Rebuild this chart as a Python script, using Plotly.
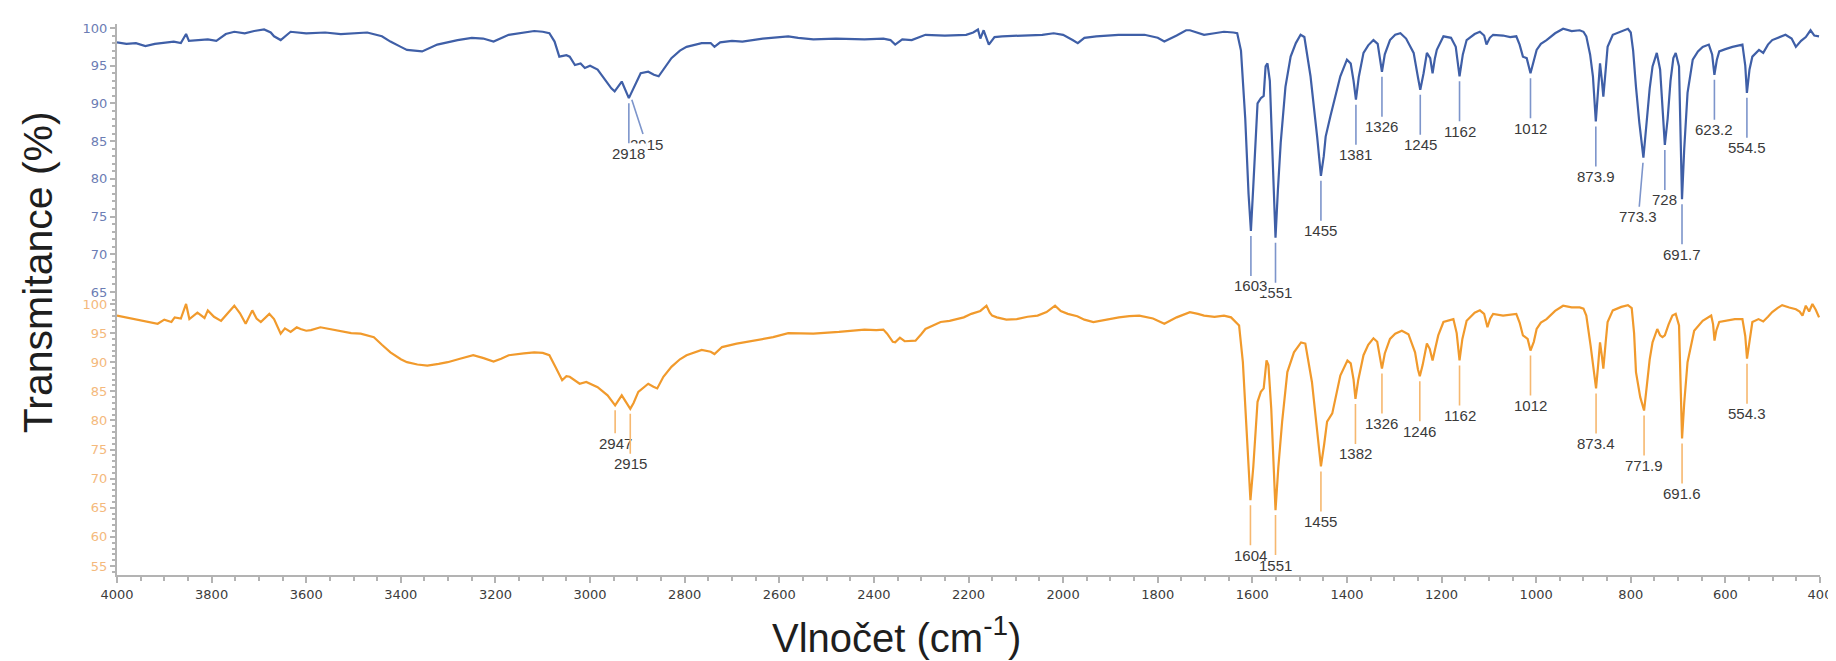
import numpy as np
import plotly.graph_objects as go

# upper spectrum (blue)
wn_blue = [4000, 3980, 3960, 3940, 3920, 3900, 3880, 3865, 3854, 3848, 3830, 3808, 3790, 3770, 3752, 3730,
           3710, 3689, 3675, 3668, 3654, 3640, 3633, 3600, 3560, 3527, 3500, 3471, 3440, 3422, 3400, 3387,
           3355, 3323, 3280, 3250, 3226, 3204, 3172, 3140, 3118, 3100, 3086, 3075, 3065, 3050, 3043, 3032,
           3020, 3011, 3000, 2984, 2968, 2955, 2948, 2933, 2918, 2905, 2893, 2877, 2865, 2855, 2840, 2828,
           2810, 2796, 2764, 2745, 2737, 2725, 2700, 2678, 2635, 2600, 2581, 2560, 2528, 2480, 2420, 2380,
           2365, 2355, 2340, 2320, 2291, 2250, 2205, 2190, 2180, 2175, 2168, 2157, 2145, 2129, 2090, 2044,
           2020, 2000, 1980, 1969, 1955, 1930, 1883, 1828, 1800, 1786, 1760, 1740, 1732, 1702, 1680, 1660,
           1640, 1632, 1624, 1615, 1608, 1603, 1598, 1592, 1589, 1582, 1576, 1572, 1568, 1563, 1557, 1551,
           1546, 1540, 1530, 1519, 1508, 1498, 1490, 1477, 1463, 1455, 1449, 1445, 1435, 1425, 1414, 1400,
           1392, 1386, 1381, 1375, 1365, 1355, 1344, 1335, 1330, 1326, 1320, 1309, 1298, 1287, 1275, 1259,
           1250, 1245, 1238, 1231, 1224, 1219, 1214, 1210, 1196, 1180, 1170, 1162, 1155, 1147, 1130, 1119,
           1110, 1105, 1098, 1091, 1070, 1055, 1042, 1035, 1028, 1020, 1012, 1005, 999, 990, 978, 960,
           943, 925, 908, 900, 894, 886, 880, 873.9, 869, 865, 861, 858, 853, 849, 838, 820,
           806, 800, 795, 789, 782, 773.3, 766, 760, 754, 745, 738, 733, 728, 722, 716, 710,
           705, 698, 695, 691.7, 687, 680, 669, 658, 648, 635, 628, 623.2, 618, 613, 600, 585,
           564, 558, 554.5, 549, 543, 529, 520, 510, 501, 485, 473, 460, 451, 440, 430, 420,
           412, 402]
t_blue = [98.1, 97.9, 98.0, 97.6, 97.9, 98.0, 98.2, 98.0, 99.2, 98.3, 98.4, 98.5, 98.3, 99.2, 99.5, 99.3,
          99.6, 99.8, 99.4, 98.9, 98.4, 99.2, 99.5, 99.3, 99.4, 99.2, 99.3, 99.4, 98.9, 98.2, 97.5, 97.1,
          96.9, 97.8, 98.4, 98.7, 98.6, 98.2, 99.1, 99.4, 99.6, 99.5, 99.3, 98.2, 96.2, 96.4, 96.2, 95.1,
          95.3, 94.7, 95.0, 94.5, 93.1, 92.0, 91.6, 92.9, 90.7, 92.5, 94.0, 94.2, 93.8, 93.6, 95.0, 96.0,
          97.0, 97.5, 98.0, 98.0, 97.5, 98.1, 98.3, 98.2, 98.6, 98.8, 98.9, 98.7, 98.5, 98.6, 98.5, 98.6,
          98.4, 97.8, 98.5, 98.4, 99.1, 99.0, 99.1, 99.4, 99.8, 98.6, 99.7, 97.8, 98.8, 98.9, 99.0, 99.1,
          99.3, 99.1, 98.4, 98.0, 98.7, 98.9, 99.1, 99.1, 98.7, 98.2, 99.0, 99.7, 99.7, 99.1, 99.3, 99.5,
          99.4, 99.3, 97.0, 88.0, 78.0, 73.1, 79.0, 87.5, 90.0, 90.7, 91.0, 94.9, 95.3, 93.0, 82.0, 72.2,
          78.5, 84.8, 92.2, 96.2, 98.0, 99.1, 98.8, 93.6, 85.6, 80.4, 83.0, 85.6, 88.3, 91.0, 93.6, 95.8,
          95.3, 93.0, 90.5, 93.5, 96.7, 97.7, 98.4, 97.9, 96.0, 94.2, 96.5, 98.4, 99.1, 99.3, 98.6, 96.7,
          93.5, 91.8, 94.0, 96.7, 96.0, 94.0, 96.0, 97.1, 98.9, 98.7, 97.5, 93.6, 96.5, 98.4, 99.2, 99.5,
          99.0, 97.8, 98.7, 99.1, 99.0, 98.8, 98.9, 97.8, 96.2, 96.0, 94.0, 95.8, 97.1, 97.9, 98.4, 99.3,
          99.9, 99.6, 99.7, 99.5, 98.9, 96.5, 93.6, 87.6, 91.5, 95.3, 93.0, 90.9, 94.5, 97.5, 99.1, 99.5,
          99.9, 99.4, 97.0, 92.2, 87.5, 82.8, 88.0, 92.0, 94.9, 96.7, 94.5, 89.0, 84.5, 88.0, 93.0, 96.0,
          96.7, 94.9, 87.0, 77.3, 84.0, 91.4, 95.8, 96.9, 97.5, 97.8, 96.5, 93.8, 95.8, 96.9, 97.2, 97.5,
          97.8, 95.0, 91.4, 94.5, 96.2, 97.1, 96.7, 97.8, 98.4, 98.8, 99.1, 98.6, 97.5, 98.3, 98.8, 99.7,
          99.0, 98.9]

# lower spectrum (orange)
wn_orange = [4000, 3980, 3965, 3947, 3930, 3914, 3900, 3885, 3878, 3865, 3854, 3847, 3830, 3815, 3808, 3795,
             3780, 3765, 3752, 3740, 3728, 3714, 3705, 3696, 3678, 3668, 3660, 3654, 3645, 3633, 3620, 3612,
             3600, 3590, 3570, 3550, 3527, 3505, 3485, 3470, 3457, 3440, 3422, 3400, 3387, 3365, 3344, 3320,
             3301, 3275, 3247, 3225, 3204, 3188, 3172, 3140, 3118, 3100, 3086, 3072, 3059, 3050, 3043, 3022,
             3008, 2984, 2963, 2947, 2940, 2933, 2915, 2908, 2898, 2877, 2866, 2858, 2845, 2828, 2810, 2796,
             2764, 2745, 2737, 2721, 2690, 2656, 2613, 2581, 2550, 2528, 2474, 2440, 2420, 2395, 2380, 2372,
             2360, 2355, 2345, 2335, 2312, 2300, 2291, 2275, 2259, 2240, 2226, 2210, 2194, 2175, 2162, 2155,
             2150, 2140, 2120, 2098, 2075, 2054, 2035, 2017, 2005, 1990, 1970, 1955, 1936, 1910, 1882, 1860,
             1839, 1810, 1786, 1760, 1732, 1715, 1702, 1680, 1660, 1645, 1635, 1628, 1620, 1612, 1604, 1598,
             1592, 1589, 1582, 1576, 1570, 1566, 1560, 1551, 1545, 1537, 1526, 1512, 1497, 1488, 1474, 1462,
             1455, 1448, 1442, 1431, 1422, 1414, 1399, 1392, 1386, 1382, 1376, 1365, 1355, 1344, 1336, 1330,
             1326, 1320, 1309, 1298, 1284, 1270, 1256, 1250, 1246, 1240, 1231, 1225, 1219, 1213, 1207, 1196,
             1175, 1168, 1162, 1156, 1147, 1130, 1119, 1110, 1103, 1097, 1091, 1070, 1055, 1042, 1035, 1028,
             1018, 1012, 1005, 999, 990, 978, 960, 943, 925, 908, 900, 894, 885, 879, 873.4, 869,
             865, 861, 858, 853, 849, 838, 820, 806, 798, 793, 789, 780, 771.9, 766, 760, 754,
             744, 738, 733, 728, 720, 712, 705, 698, 695, 691.6, 687, 680, 666, 648, 630, 626,
             623, 619, 613, 595, 580, 564, 558, 554.3, 549, 543, 530, 520, 510, 501, 490, 480,
             465, 451, 443, 437, 430, 423, 416, 409, 402]
t_orange = [98.0, 97.7, 97.4, 97.1, 96.9, 96.6, 97.3, 96.9, 97.7, 97.5, 100.0, 97.4, 98.5, 97.6, 98.9, 97.8,
            97.1, 98.5, 99.7, 98.4, 96.6, 98.9, 97.5, 96.9, 98.3, 97.4, 96.0, 94.9, 95.8, 95.2, 96.0, 95.7,
            95.4, 95.5, 96.0, 95.7, 95.4, 95.0, 94.9, 94.6, 94.3, 93.0, 91.7, 90.5, 90.0, 89.6, 89.4, 89.7,
            90.0, 90.6, 91.2, 90.7, 90.1, 90.6, 91.2, 91.5, 91.7, 91.6, 91.2, 89.0, 86.9, 87.6, 87.5, 86.3,
            86.6, 85.7, 84.3, 82.6, 83.5, 84.3, 82.0, 83.0, 84.9, 86.3, 85.8, 85.5, 87.5, 89.2, 90.5, 91.2,
            92.1, 91.8, 91.4, 92.6, 93.2, 93.7, 94.3, 95.0, 95.0, 94.9, 95.2, 95.4, 95.6, 95.5, 95.6, 94.9,
            93.5, 93.4, 94.2, 93.6, 93.7, 94.8, 95.7, 96.3, 96.9, 97.1, 97.4, 97.7, 98.3, 98.8, 99.7, 98.5,
            98.0, 97.7, 97.3, 97.4, 97.8, 98.0, 98.6, 99.7, 98.8, 98.3, 97.9, 97.3, 96.9, 97.3, 97.7, 97.9,
            98.0, 97.5, 96.6, 97.7, 98.6, 98.3, 98.0, 97.8, 98.0, 97.7, 96.8, 96.3, 90.0, 78.0, 66.3, 72.0,
            80.0, 83.2, 84.9, 85.5, 90.3, 89.5, 82.0, 64.6, 72.0, 79.8, 88.3, 91.7, 93.4, 93.2, 86.6, 77.0,
            72.1, 76.0, 79.8, 81.2, 84.5, 87.7, 90.3, 89.8, 87.0, 83.7, 87.0, 91.2, 93.0, 94.1, 93.5, 91.0,
            88.9, 91.5, 94.0, 94.9, 95.4, 94.8, 91.7, 88.8, 87.6, 89.5, 93.2, 92.3, 90.3, 92.5, 94.6, 96.9,
            97.4, 95.0, 90.3, 94.0, 97.1, 98.5, 98.9, 98.3, 96.0, 97.5, 98.3, 98.0, 98.2, 98.3, 96.8, 94.6,
            94.0, 92.0, 93.5, 95.7, 96.8, 97.4, 98.8, 99.7, 99.4, 99.4, 99.2, 98.0, 92.9, 89.0, 85.5, 89.5,
            93.4, 91.0, 88.9, 93.5, 96.9, 98.9, 99.5, 99.8, 99.3, 95.0, 88.3, 84.0, 81.7, 86.0, 90.5, 93.4,
            95.7, 94.6, 94.3, 94.6, 96.5, 98.0, 98.3, 96.3, 88.0, 76.9, 83.0, 90.0, 95.4, 97.1, 98.0, 96.5,
            93.7, 95.5, 96.9, 97.2, 97.4, 97.4, 94.5, 90.6, 94.0, 96.9, 97.4, 97.0, 97.8, 98.6, 99.3, 99.8,
            99.4, 99.1, 98.7, 98.0, 99.7, 98.7, 100.0, 99.0, 97.7]

# peak labels
peaks_blue = [2915, 2918, 1551, 1603, 1455, 1381, 1326, 1245, 1162, 1012, 873.9, 773.3, 728, 691.7, 623.2, 554.5]
labels_blue = ['2915', '2918', '1551', '1603', '1455', '1381', '1326', '1245', '1162', '1012', '873.9', '773.3',
               '728', '691.7', '623.2', '554.5']
peaks_orange = [2947, 2915, 1604, 1551, 1455, 1382, 1326, 1246, 1162, 1012, 873.4, 771.9, 691.6, 554.3]
labels_orange = ['2947', '2915', '1604', '1551', '1455', '1382', '1326', '1246', '1162', '1012', '873.4', '771.9',
                 '691.6', '554.3']

# label offsets that differ from the default drop (pixels)
offsets_blue = {'2915': (16, 49), '773.3': (-5, 59)}
offsets_orange = {'2947': (0, 38)}
covered = ['2918', '1603']

BLUE = '#3f5fa7'
ORANGE = '#f19a2c'
AXIS = '#b3b3b3'
LABEL_FONT = 'Liberation Sans Narrow, Arial Narrow, Liberation Sans, Arial'

fig = go.Figure()
fig.add_trace(go.Scatter(x=wn_blue, y=t_blue, mode='lines', line=dict(color=BLUE, width=2.2),
                         yaxis='y2', showlegend=False))
fig.add_trace(go.Scatter(x=wn_orange, y=t_orange, mode='lines', line=dict(color=ORANGE, width=2.2),
                         yaxis='y', showlegend=False))


def peak_annotations(peaks, labels, wn, t, yref, color, offsets):
    xs = np.array(wn[::-1], dtype=float)
    ys = np.array(t[::-1], dtype=float)
    out = []
    for p, lab in zip(peaks, labels):
        ax, ay = offsets.get(lab, (0, 55))
        out.append(dict(
            x=p, y=float(np.interp(p, xs, ys)), xref='x', yref=yref,
            text=lab, showarrow=True, arrowhead=0, arrowwidth=1.6, arrowcolor=color,
            ax=ax, ay=ay, standoff=5,
            font=dict(family=LABEL_FONT, size=15, color='#3a3a3a'),
            bgcolor='white' if lab in covered and yref == 'y2' else 'rgba(0,0,0,0)',
            borderpad=1,
        ))
    return out


annotations = []
annotations += peak_annotations(peaks_blue, labels_blue, wn_blue, t_blue, 'y2', '#7d95cb', offsets_blue)
annotations += peak_annotations(peaks_orange, labels_orange, wn_orange, t_orange, 'y', '#f6b870', offsets_orange)

annotations.append(dict(text='Transmitance (%)', textangle=-90, xref='paper', yref='paper',
                        x=-0.0462, y=0.55, xanchor='center', yanchor='middle', showarrow=False,
                        font=dict(family='Arial, Liberation Sans', size=41, color='#1e1e1e')))
annotations.append(dict(text='Vlnočet (cm<sup>-1</sup>)', xref='paper', yref='paper',
                        x=0.458, y=-0.108, xanchor='center', yanchor='middle', showarrow=False,
                        font=dict(family='Arial, Liberation Sans', size=40, color='#1e1e1e')))

yaxis_common = dict(showline=True, linecolor=AXIS, linewidth=2, ticks='outside', ticklen=5, tickcolor=AXIS,
                    tickwidth=1.5, showgrid=False, zeroline=False, dtick=5,
                    minor=dict(dtick=1, ticks='outside', ticklen=3, tickcolor=AXIS, showgrid=False))

fig.update_layout(
    width=1836, height=661,
    margin=dict(l=109, r=18, t=14, b=94),
    plot_bgcolor='white', paper_bgcolor='white',
    xaxis=dict(range=[4000, 400], showline=True, linecolor=AXIS, linewidth=2, ticks='outside', ticklen=6,
               tickcolor=AXIS, tickwidth=1.5, dtick=200, showgrid=False, zeroline=False,
               tickfont=dict(family='DejaVu Sans', size=13, color='#3c3c3c'),
               minor=dict(dtick=50, ticks='outside', ticklen=4, tickcolor=AXIS, showgrid=False)),
    yaxis=dict(domain=[0, 0.4973], range=[53.46, 100.51],
               tickfont=dict(family='DejaVu Sans', size=13, color='#f4b97c'), **yaxis_common),
    yaxis2=dict(domain=[0.4973, 1], range=[63.81, 100.53], anchor='x',
                tickfont=dict(family='DejaVu Sans', size=13, color='#6c7db4'), **yaxis_common),
    annotations=annotations,
)

fig.write_html("out.html")
